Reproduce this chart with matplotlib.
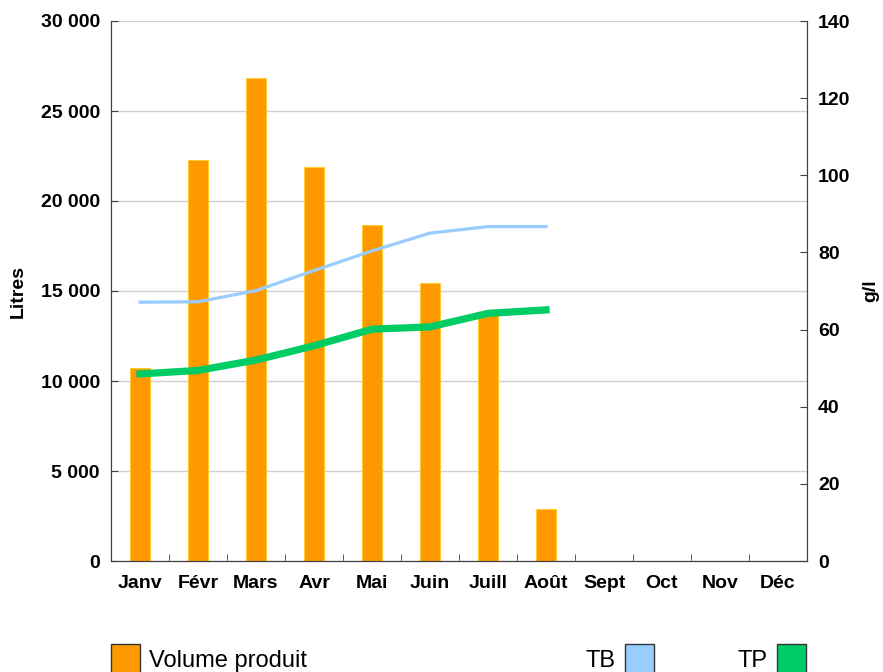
import numpy as np
import matplotlib
matplotlib.use("Agg")
from matplotlib import pyplot as plt
from matplotlib.patches import Rectangle
from matplotlib.ticker import FuncFormatter

plt.rcParams["font.family"] = ["Liberation Sans", "DejaVu Sans"]

months = ["Janv", "Févr", "Mars", "Avr", "Mai", "Juin", "Juill", "Août",
          "Sept", "Oct", "Nov", "Déc"]
volume = [10700, 22300, 26850, 21900, 18650, 15450, 13700, 2900]
tb = [67.1, 67.2, 70.1, 75.3, 80.4, 85.0, 86.7, 86.7]
tp = [48.5, 49.4, 52.1, 55.8, 60.1, 60.7, 64.2, 65.1]

W, H = 883, 672
fig = plt.figure(figsize=(W / 100, H / 100), dpi=100)
ax = fig.add_axes([111 / W, (H - 561) / H, 696 / W, 540 / H])
ax2 = ax.twinx()

x = np.arange(len(months))
ax.bar(x[:len(volume)], volume, width=0.33, color="#FF9900",
       edgecolor="#FFCC33", linewidth=0.8, zorder=2)
ax.set_xlim(-0.5, len(months) - 0.5)
ax.set_ylim(0, 30000)
ax.set_yticks(range(0, 30001, 5000))
ax.yaxis.set_major_formatter(FuncFormatter(lambda v, p: f"{int(v):,}".replace(",", " ")))
ax.grid(axis="y", color="#D0D0D0", linewidth=1, zorder=0)
ax.set_axisbelow(True)

ax.set_xticks(x)
ax.set_xticklabels(months)
ax.set_xticks(np.arange(-0.5, len(months)), minor=True)
ax.tick_params(axis="x", which="major", length=0, pad=10)
ax.tick_params(axis="x", which="minor", direction="in", length=5, color="#404040")
ax.tick_params(axis="y", direction="in", length=5, color="#404040", pad=8)
for lab in ax.get_xticklabels() + ax.get_yticklabels():
    lab.set_fontweight("bold")
    lab.set_fontsize(14)

ax.set_ylabel("Litres", fontsize=14, fontweight="bold", labelpad=10)

ax2.plot(x[:len(tb)], tb, color="#99CCFF", linewidth=2.3, zorder=3)
ax2.plot(x[:len(tp)], tp, color="#00CC66", linewidth=5.2, zorder=4)
ax2.set_ylim(0, 140)
ax2.set_yticks(range(0, 141, 20))
ax2.tick_params(axis="y", direction="in", length=5, color="#404040", pad=8)
for lab in ax2.get_yticklabels():
    lab.set_fontweight("bold")
    lab.set_fontsize(14)
ax2.set_ylabel("g/l", fontsize=14, fontweight="bold", rotation=90)
ax2.yaxis.set_label_coords((862 - 111) / 696, 0.5)

for a in (ax, ax2):
    a.spines["top"].set_visible(False)
    a.spines["left"].set_color("#404040")
    a.spines["right"].set_color("#404040")
    a.spines["bottom"].set_color("#404040")

# legend along the bottom edge
def px(xp, yp):
    return xp / W, 1 - yp / H

legend_items = [("Volume produit", "#FF9900", 111, "right"),
                ("TB", "#99CCFF", 625, "left"),
                ("TP", "#00CC66", 777, "left")]
for label, col, x0, side in legend_items:
    lx, ly = px(x0, 680)
    fig.add_artist(Rectangle((lx, ly), 29 / W, 36 / H, transform=fig.transFigure,
                             facecolor=col, edgecolor="#333333", linewidth=1))
    if side == "right":
        tx, ty = px(x0 + 38, 661)
        fig.text(tx, ty, label, fontsize=17, ha="left", va="center")
    else:
        tx, ty = px(x0 - 9, 661)
        fig.text(tx, ty, label, fontsize=17, ha="right", va="center")

fig.savefig("out.png", dpi=100)
